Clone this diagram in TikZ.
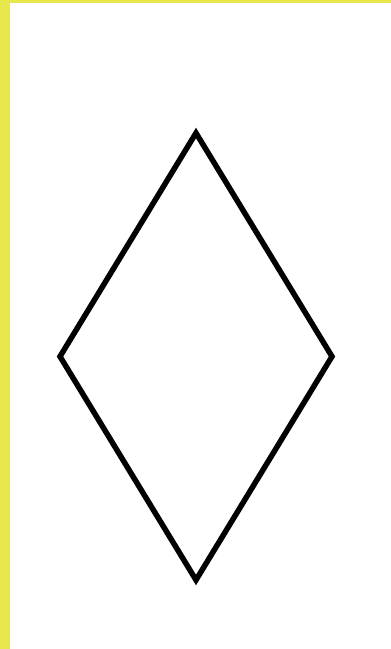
\documentclass[tikz,border=0pt]{standalone}
\usetikzlibrary{shapes.geometric}
\definecolor{bandyellow}{RGB}{232,232,76}

\begin{document}
\begin{tikzpicture}[
    x=1pt, y=-1pt,
    band/.style={fill=bandyellow, draw=none},
    rhombus/.style={diamond, draw, line width=5.5pt, minimum width=272pt, minimum height=447pt, inner sep=0pt, outer sep=0pt}
]
\useasboundingbox (0,0) rectangle (391,649);

% frame bands
\fill[band] (0,0) rectangle (391,3);
\fill[band] (0,0) rectangle (10,649);

% the shape
\node[rhombus] (rhomb) at (196,356.5) {};

\end{tikzpicture}
\end{document}
